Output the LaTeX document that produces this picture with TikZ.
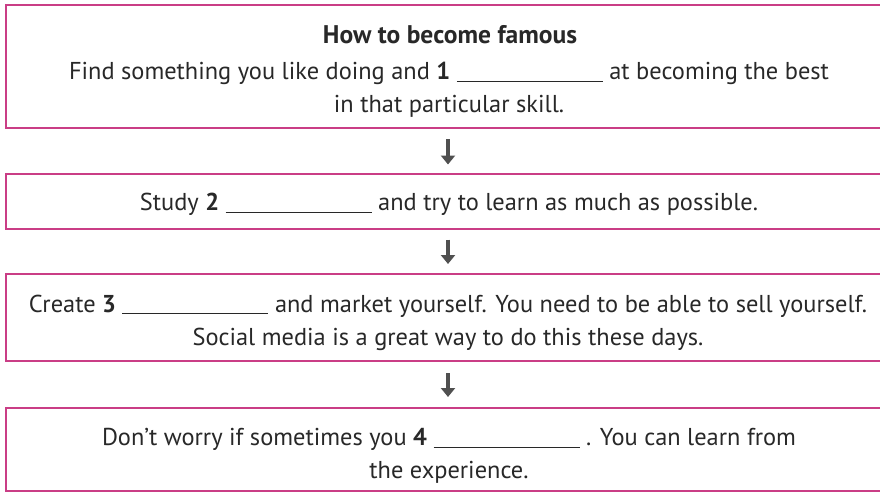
\documentclass[tikz,border=0pt]{standalone}
\usepackage{fontspec}
\setmainfont{PT Sans}
\usetikzlibrary{arrows.meta}
\definecolor{boxpink}{RGB}{202,62,134}
\definecolor{txt}{RGB}{40,40,40}
\definecolor{arrowgray}{RGB}{80,80,80}
\newcommand{\blank}{\rule[-2pt]{146pt}{0.7pt}}
\tikzset{
  stepbox/.style={draw=boxpink, line width=2pt, fill=white, rectangle, inner sep=0pt},
  steptext/.style={text=txt, font=\fontsize{24.4}{33}\selectfont, align=center, inner sep=0pt},
  flowarrow/.style={draw=arrowgray, line width=3.2pt, -{Triangle[length=9pt,width=14pt]}}
}
\begin{document}
\begin{tikzpicture}[x=1pt,y=-1pt]
\useasboundingbox (0,0) rectangle (880,492);
\clip (0,0) rectangle (880,492);
\node[stepbox, minimum width=886pt, minimum height=123pt] (b1) at (449,66.5) {};
\node[stepbox, minimum width=886pt, minimum height=55pt] (b2) at (449,201) {};
\node[stepbox, minimum width=886pt, minimum height=87pt] (b3) at (449,317.5) {};
\node[stepbox, minimum width=886pt, minimum height=83pt] (b4) at (449,449.5) {};

\node[steptext, font=\fontsize{25.5}{33}\bfseries\selectfont] (t1a) at (450,35) {How to become famous};
\node[steptext] (t1b) at (449,90) {Find something you like doing and \textbf{1} \blank{} at becoming the best\\in that particular skill.};
\node[steptext] (t2) at (449,204) {Study \textbf{2} \blank{} and try to learn as much as possible.};
\node[steptext] (t3) at (448,322.5) {Create \textbf{3} \blank{} and market yourself. You need to be able to sell yourself.\\Social media is a great way to do this these days.};
\node[steptext] (t4) at (449,456) {Don’t worry if sometimes you \textbf{4} \blank{} . You can learn from\\the experience.};

\draw[flowarrow] ([xshift=-1pt,yshift=-10pt]b1.south) -- ([xshift=-1pt,yshift=8pt]b2.north);
\draw[flowarrow] ([xshift=-1pt,yshift=-10pt]b2.south) -- ([xshift=-1pt,yshift=9pt]b3.north);
\draw[flowarrow] ([xshift=-1pt,yshift=-11pt]b3.south) -- ([xshift=-1pt,yshift=10pt]b4.north);
\end{tikzpicture}
\end{document}
